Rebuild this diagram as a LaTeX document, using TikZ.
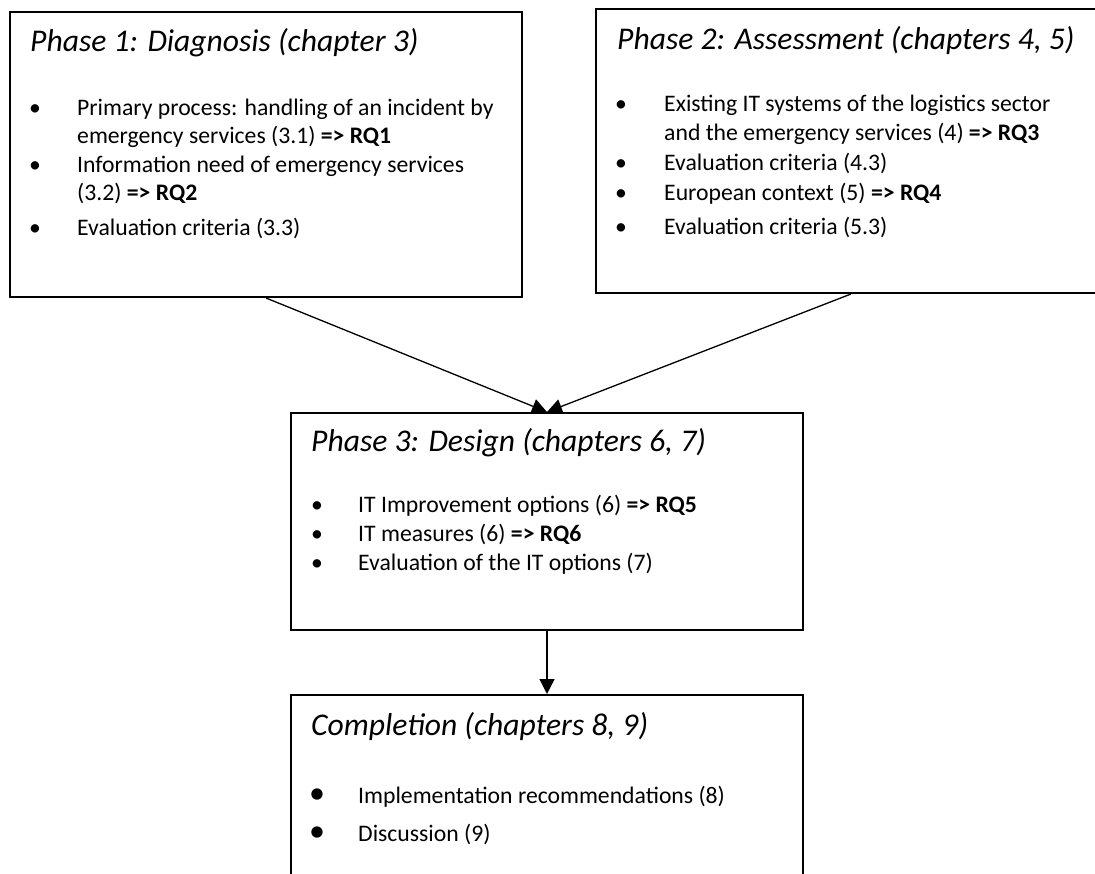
\documentclass[tikz,border=0pt]{standalone}
\usepackage{fontspec}
\setmainfont{Carlito}
\usetikzlibrary{arrows.meta,calc}
\begin{document}
\begin{tikzpicture}[x=1pt,y=-1pt,
  phasebox/.style={draw=black, line width=2pt, anchor=north west, inner sep=0pt,
                   minimum width=512pt},
  heading/.style={anchor=base west, inner sep=0pt,
                  font=\fontsize{31.6}{38}\selectfont\itshape},
  itemtext/.style={anchor=base west, inner sep=0pt,
                   font=\fontsize{23.7}{29}\selectfont},
  dot/.style={anchor=base, inner sep=0pt, font=\fontsize{23.7}{29}\selectfont},
  bigdot/.style={anchor=base, inner sep=0pt, font=\fontsize{32}{38}\selectfont},
  link/.style={line width=1.3pt, -{Triangle[length=15pt,width=15pt]}}]
\useasboundingbox (0,0) rectangle (1095,874);
\clip (0,0) rectangle (1095,874);

% phase boxes
\node[phasebox, minimum height=285pt] (p1) at (9,11) {};
\node[phasebox, minimum width=510pt, minimum height=284pt] (p2) at (595,8) {};
\node[phasebox, minimum height=217pt] (p3) at (290,412) {};
\node[phasebox, minimum height=240pt] (p4) at (290,694) {};

% Phase 1
\node[heading] (h1) at (30,52) {Phase 1: Diagnosis (chapter 3)};
\node[dot] (b1a) at (35,116) {\textbullet};
\node[itemtext] (t1a) at (77,116) {Primary process: handling of an incident by};
\node[itemtext] (t1b) at (77,144) {emergency services (3.1) \textbf{=> RQ1}};
\node[dot] (b1b) at (35,173) {\textbullet};
\node[itemtext] (t1c) at (77,173) {Information need of emergency services};
\node[itemtext] (t1d) at (77,201) {(3.2) \textbf{=> RQ2}};
\node[dot] (b1c) at (35,236) {\textbullet};
\node[itemtext] (t1e) at (77,236) {Evaluation criteria (3.3)};

% Phase 2
\node[heading] (h2) at (617,50) {Phase 2: Assessment (chapters 4, 5)};
\node[dot] (b2a) at (621,112) {\textbullet};
\node[itemtext] (t2a) at (664,112) {Existing IT systems of the logistics sector};
\node[itemtext] (t2b) at (664,141) {and the emergency services (4) \textbf{=> RQ3}};
\node[dot] (b2b) at (621,171) {\textbullet};
\node[itemtext] (t2c) at (664,171) {Evaluation criteria (4.3)};
\node[dot] (b2c) at (621,201) {\textbullet};
\node[itemtext] (t2d) at (664,201) {European context (5) \textbf{=> RQ4}};
\node[dot] (b2d) at (621,235) {\textbullet};
\node[itemtext] (t2e) at (664,235) {Evaluation criteria (5.3)};

% Phase 3
\node[heading] (h3) at (311,451) {Phase 3: Design (chapters 6, 7)};
\node[dot] (b3a) at (317,512) {\textbullet};
\node[itemtext] (t3a) at (358,512) {IT Improvement options (6) \textbf{=> RQ5}};
\node[dot] (b3b) at (317,541) {\textbullet};
\node[itemtext] (t3b) at (358,541) {IT measures (6) \textbf{=> RQ6}};
\node[dot] (b3c) at (317,570) {\textbullet};
\node[itemtext] (t3c) at (358,570) {Evaluation of the IT options (7)};

% Completion
\node[heading] (h4) at (311,735) {Completion (chapters 8, 9)};
\node[bigdot] (b4a) at (317,803) {\textbullet};
\node[itemtext] (t4a) at (358,803) {Implementation recommendations (8)};
\node[bigdot] (b4b) at (317,841) {\textbullet};
\node[itemtext] (t4b) at (358,841) {Discussion (9)};

% connectors
\draw[link] (p1.south) -- (p3.north);
\draw[link] (p2.south) -- (p3.north);
\draw[link] (p3.south) -- (p4.north);
\end{tikzpicture}
\end{document}
